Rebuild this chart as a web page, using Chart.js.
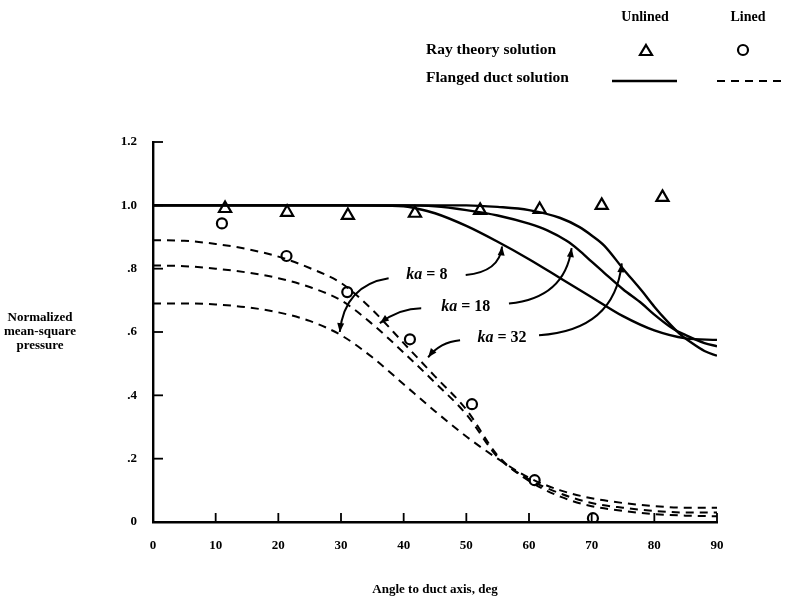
<!DOCTYPE html>
<html><head><meta charset="utf-8">
<script src="https://cdn.jsdelivr.net/npm/chart.js@4.4.1/dist/chart.umd.min.js"></script>
<style>html,body{margin:0;padding:0;background:#fff;}#wrap{width:786px;height:603px;position:relative;}</style>
</head><body><div id="wrap"><canvas id="c" width="786" height="603"></canvas></div>
<script>
// ---- data ----
const xTicks = [0,10,20,30,40,50,60,70,80,90];
const yTicks = [0,0.2,0.4,0.6,0.8,1.0,1.2];
const yTickLabels = ['0','.2','.4','.6','.8','1.0','1.2'];

const rayUnlinedX = [11.5,21.4,31.1,41.8,52.2,61.7,71.6,81.3];
const rayUnlinedY = [0.99,0.978,0.968,0.975,0.984,0.987,1.0,1.025];
const rayLinedX = [11,21.3,31,41,50.9,60.9,70.2];
const rayLinedY = [0.943,0.84,0.726,0.577,0.372,0.132,0.012];

const unlined8X = [0,10,20,30,40,42,45,50,55,60,65,70,75,80,85,90];
const unlined8Y = [1,1,1,1,0.997,0.99,0.975,0.935,0.885,0.83,0.77,0.71,0.65,0.605,0.58,0.575];
const unlined18X = [0,10,20,30,40,45,50,55,60,63,66,68,70,72,75,78,80,83,85,88,90];
const unlined18Y = [1,1,1,1,1,0.997,0.985,0.968,0.942,0.92,0.888,0.858,0.822,0.787,0.735,0.69,0.655,0.61,0.59,0.565,0.555];
const unlined32X = [0,10,20,30,40,50,55,60,65,68,70,72,75,78,80,82,84,86,88,90];
const unlined32Y = [1,1,1,1,1,1,0.995,0.985,0.96,0.932,0.905,0.873,0.8,0.73,0.68,0.635,0.595,0.565,0.54,0.525];

const linedX = [0,5,10,15,20,25,30,35,40,45,50,55,60,65,70,75,80,85,90];
const lined8Y = [0.69,0.69,0.687,0.678,0.662,0.635,0.59,0.52,0.435,0.35,0.27,0.2,0.14,0.1,0.075,0.06,0.05,0.045,0.045];
const lined18Y = [0.81,0.808,0.8,0.788,0.77,0.742,0.7,0.625,0.535,0.44,0.34,0.205,0.135,0.09,0.06,0.045,0.035,0.03,0.03];
const lined32Y = [0.89,0.888,0.878,0.862,0.838,0.802,0.755,0.67,0.565,0.46,0.355,0.21,0.13,0.08,0.05,0.035,0.025,0.02,0.018];

// annotation labels (data units)
const kaLabels = ['8','18','32'];
const kaLabelPos = [[43.7,0.78],[49.9,0.678],[55.7,0.58]];
// arrows: [startX,startY, ctrlX,ctrlY, endX,endY]
const kaArrows = [
  [49.9,0.78, 55.3,0.79, 55.7,0.87],
  [56.8,0.69, 65.7,0.707, 66.8,0.865],
  [61.6,0.59, 73.7,0.606, 74.8,0.817],
  [37.6,0.77, 30.6,0.748, 29.8,0.60],
  [42.8,0.675, 39.4,0.675, 36.2,0.628],
  [49.0,0.574, 45.8,0.568, 43.9,0.52]
];

const legendHeaders = ['Unlined','Lined'];
const legendRows = ['Ray theory solution','Flanged duct solution'];
const xTitle = 'Angle to duct axis, deg';
const yTitleLines = ['Normalized','mean-square','pressure'];

// ---- build ----
const pts = (xs, ys) => xs.map((x,i)=>({x:x, y:ys[i]}));
const FONT = "'Liberation Serif', 'Times New Roman', serif";
const lineDs = (label, xs, ys, dashed) => ({
  label, data: pts(xs, ys), borderColor:'#000', borderWidth: dashed?2:2.4,
  borderDash: dashed?[8,6]:[], pointRadius:0, fill:false,
  cubicInterpolationMode:'monotone', showLine:true
});

const annoPlugin = {
  id:'anno',
  afterDraw(chart){
    const ctx = chart.ctx, xs = chart.scales.x, ys = chart.scales.y;
    const X = v=>xs.getPixelForValue(v), Y = v=>ys.getPixelForValue(v);
    ctx.save();
    ctx.strokeStyle='#000'; ctx.fillStyle='#000'; ctx.lineWidth=1.8;
    // inward ticks
    yTicks.forEach(v=>{ if(v===0) return; ctx.beginPath(); ctx.moveTo(X(0),Y(v)); ctx.lineTo(X(0)+10,Y(v)); ctx.stroke(); });
    xTicks.forEach(v=>{ if(v===0) return; ctx.beginPath(); ctx.moveTo(X(v),Y(0)); ctx.lineTo(X(v),Y(0)-9); ctx.stroke(); });
    // arrows
    kaArrows.forEach(a=>{
      const sx=X(a[0]), sy=Y(a[1]), cx=X(a[2]), cy=Y(a[3]), ex=X(a[4]), ey=Y(a[5]);
      ctx.lineWidth=2;
      ctx.beginPath(); ctx.moveTo(sx,sy); ctx.quadraticCurveTo(cx,cy,ex,ey); ctx.stroke();
      const ang = Math.atan2(ey-cy, ex-cx), L=9, W=3.5;
      ctx.beginPath();
      ctx.moveTo(ex,ey);
      ctx.lineTo(ex - L*Math.cos(ang) + W*Math.sin(ang), ey - L*Math.sin(ang) - W*Math.cos(ang));
      ctx.lineTo(ex - L*Math.cos(ang) - W*Math.sin(ang), ey - L*Math.sin(ang) + W*Math.cos(ang));
      ctx.closePath(); ctx.fill();
    });
    // ka labels
    ctx.textBaseline='middle';
    kaLabels.forEach((k,i)=>{
      const px=X(kaLabelPos[i][0]), py=Y(kaLabelPos[i][1]);
      ctx.font = "italic bold 16px "+FONT;
      const w1 = ctx.measureText('ka').width;
      ctx.font = "bold 16px "+FONT;
      const rest = ' = '+k;
      const w2 = ctx.measureText(rest).width;
      let x0 = px-(w1+w2)/2;
      ctx.font = "italic bold 16px "+FONT; ctx.textAlign='left'; ctx.fillText('ka',x0,py);
      ctx.font = "bold 16px "+FONT; ctx.fillText(rest,x0+w1,py);
    });
    // y title
    ctx.font = "bold 13px "+FONT; ctx.textAlign='center';
    yTitleLines.forEach((t,i)=>ctx.fillText(t, 40, 318+i*14));
    // legend
    ctx.font = "bold 14px "+FONT;
    ctx.fillText(legendHeaders[0], 645, 17);
    ctx.fillText(legendHeaders[1], 748, 17);
    ctx.textAlign='left';
    ctx.font = "bold 15.5px "+FONT;
    ctx.fillText(legendRows[0], 426, 50);
    ctx.fillText(legendRows[1], 426, 78);
    // legend symbols
    ctx.lineWidth=2.2;
    ctx.beginPath(); ctx.moveTo(646,45); ctx.lineTo(652,55); ctx.lineTo(640,55); ctx.closePath(); ctx.stroke();
    ctx.beginPath(); ctx.arc(743,50,5,0,Math.PI*2); ctx.stroke();
    ctx.lineWidth=2.4;
    ctx.beginPath(); ctx.moveTo(612,81); ctx.lineTo(677,81); ctx.stroke();
    ctx.lineWidth=2; ctx.setLineDash([8,6]);
    ctx.beginPath(); ctx.moveTo(717,81); ctx.lineTo(783,81); ctx.stroke();
    ctx.restore();
  }
};

new Chart(document.getElementById('c'), {
  type:'scatter',
  data:{ datasets:[
    lineDs('Lined ka=8', linedX, lined8Y, true),
    lineDs('Lined ka=18', linedX, lined18Y, true),
    lineDs('Lined ka=32', linedX, lined32Y, true),
    lineDs('Unlined ka=8', unlined8X, unlined8Y, false),
    lineDs('Unlined ka=18', unlined18X, unlined18Y, false),
    lineDs('Unlined ka=32', unlined32X, unlined32Y, false),
    { label:'Ray theory unlined', data: pts(rayUnlinedX, rayUnlinedY), pointStyle:'triangle', pointRadius:7,
      borderColor:'#000', backgroundColor:'rgba(0,0,0,0)', pointBorderWidth:2.2, showLine:false },
    { label:'Ray theory lined', data: pts(rayLinedX, rayLinedY), pointStyle:'circle', pointRadius:5,
      borderColor:'#000', backgroundColor:'rgba(0,0,0,0)', pointBorderWidth:2.2, showLine:false }
  ]},
  options:{
    responsive:false, animation:false,
    layout:{ padding:{ left:0, right:69, top:142, bottom:0 } },
    plugins:{ legend:{display:false}, tooltip:{enabled:false} },
    scales:{
      x:{ type:'linear', min:0, max:90,
        afterBuildTicks: s=>{ s.ticks = xTicks.map(v=>({value:v})); },
        afterFit: s=>{ s.height = 81; },
        grid:{ display:false, drawTicks:false },
        border:{ display:true, color:'#000', width:2.4 },
        ticks:{ color:'#000', padding:16, maxRotation:0, autoSkip:false, font:{family:FONT, size:13, weight:'bold'},
          callback: v=>String(v) },
        title:{ display:true, text:xTitle, color:'#000', font:{family:FONT, size:13, weight:'bold'}, padding:{top:0,bottom:6} }
      },
      y:{ type:'linear', min:0, max:1.2,
        afterBuildTicks: s=>{ s.ticks = yTicks.map(v=>({value:v})); },
        afterFit: s=>{ s.width = 153; },
        grid:{ display:false, drawTicks:false },
        border:{ display:true, color:'#000', width:2.4 },
        ticks:{ color:'#000', padding:16, autoSkip:false, font:{family:FONT, size:13, weight:'bold'},
          callback: v=>{ const i = yTicks.findIndex(t=>Math.abs(t-v)<1e-6); return i>=0?yTickLabels[i]:''; } }
      }
    }
  },
  plugins:[annoPlugin]
});
</script></body></html>
